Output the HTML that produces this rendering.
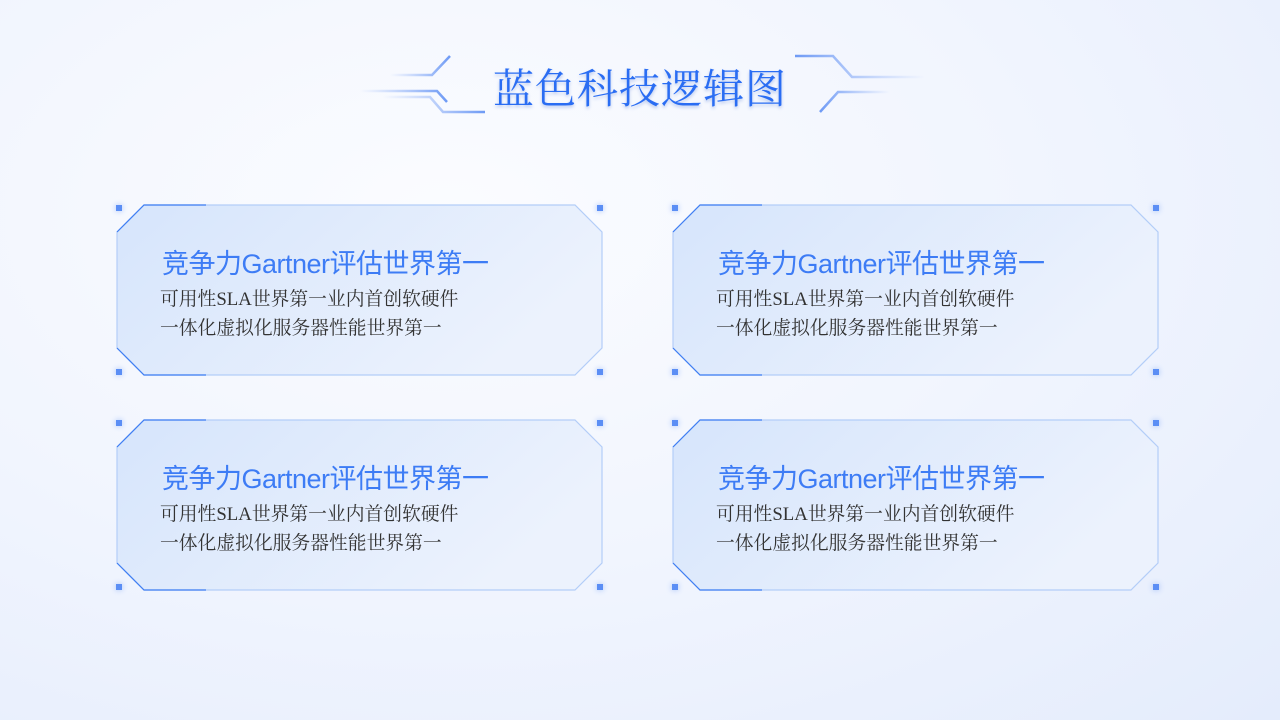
<!DOCTYPE html>
<html><head><meta charset="utf-8"><style>
html,body{margin:0;padding:0}
body{width:1280px;height:720px;overflow:hidden;position:relative;background:radial-gradient(ellipse at 35% 30%,#fbfcff 0%,#f1f5fe 50%,#e4ecfc 100%);font-family:"Liberation Sans","Noto Sans CJK SC",sans-serif}
.t{position:absolute;left:0;width:1280px;top:56px;text-align:center;font-family:"Liberation Serif","Noto Serif CJK SC",serif;font-size:41px;color:#2a6df3;letter-spacing:1px;text-shadow:0 2px 3px rgba(40,90,200,.3)}
.card{position:absolute;width:487px;height:172px}
.card svg{position:absolute;left:0;top:0}
.h{position:absolute;left:46px;top:38px;font-size:27px;color:#3d7cf5;white-space:nowrap;letter-spacing:-0.5px}
.b{position:absolute;left:44px;font-family:"Liberation Serif","Noto Serif CJK SC",serif;font-size:18.8px;color:#333;white-space:nowrap}
.sq{position:absolute;width:6px;height:6px;background:#5b8ef5;box-shadow:0 0 6px #9fbdf8}
</style></head><body>
<svg width="1280" height="140" style="position:absolute;left:0;top:0">
<defs><linearGradient id="gl" x1="0" x2="1"><stop offset="0" stop-color="#8fb0f7" stop-opacity="0"/><stop offset="1" stop-color="#6e9af5"/></linearGradient>
<linearGradient id="gr" x1="1" x2="0"><stop offset="0" stop-color="#8fb0f7" stop-opacity="0"/><stop offset="1" stop-color="#6e9af5"/></linearGradient></defs>
<g fill="none" stroke-width="2.5">
<path d="M390 75 H432 L450 56" stroke="url(#gl)"/>
<path d="M360 91 H437 L447 102" stroke="url(#gl)"/>
<path d="M383 97 H430 L443 112 H485" stroke="url(#gl)"/>
<path d="M925 77 H852 L833 56 H795" stroke="url(#gr)"/>
<path d="M890 92 H838 L820 112" stroke="url(#gr)"/>
<path d="M905 67 H845" stroke="url(#gr)"/>
</g></svg>
<div class="t">蓝色科技逻辑图</div>

<div class="card" style="left:116px;top:204px">
<svg width="487" height="172"><defs><linearGradient id="cf" x1="0" y1="0" x2="1" y2="0.4"><stop offset="0" stop-color="#d6e5fc"/><stop offset="1" stop-color="#ecf2fd"/></linearGradient></defs>
<path d="M28 1 H459 L486 28 V144 L459 171 H28 L1 144 V28 Z" fill="url(#cf)" stroke="#b3cdf8" stroke-width="1.2"/>
<path d="M1 28 L28 1 H90" fill="none" stroke="#3f7ef3" stroke-width="1.2"/><path d="M1 144 L28 171 H90" fill="none" stroke="#3f7ef3" stroke-width="1.2"/></svg>
<div class="h">竞争力Gartner评估世界第一</div><div class="b" style="top:80px">可用性SLA世界第一业内首创软硬件</div><div class="b" style="top:109px">一体化虚拟化服务器性能世界第一</div>
<div class="sq" style="left:0;top:1px"></div><div class="sq" style="left:481px;top:1px"></div><div class="sq" style="left:0;top:165px"></div><div class="sq" style="left:481px;top:165px"></div>
</div>

<div class="card" style="left:672px;top:204px">
<svg width="487" height="172"><path d="M28 1 H459 L486 28 V144 L459 171 H28 L1 144 V28 Z" fill="url(#cf)" stroke="#b3cdf8" stroke-width="1.2"/>
<path d="M1 28 L28 1 H90" fill="none" stroke="#3f7ef3" stroke-width="1.2"/><path d="M1 144 L28 171 H90" fill="none" stroke="#3f7ef3" stroke-width="1.2"/></svg>
<div class="h">竞争力Gartner评估世界第一</div><div class="b" style="top:80px">可用性SLA世界第一业内首创软硬件</div><div class="b" style="top:109px">一体化虚拟化服务器性能世界第一</div>
<div class="sq" style="left:0;top:1px"></div><div class="sq" style="left:481px;top:1px"></div><div class="sq" style="left:0;top:165px"></div><div class="sq" style="left:481px;top:165px"></div>
</div>

<div class="card" style="left:116px;top:419px">
<svg width="487" height="172"><path d="M28 1 H459 L486 28 V144 L459 171 H28 L1 144 V28 Z" fill="url(#cf)" stroke="#b3cdf8" stroke-width="1.2"/>
<path d="M1 28 L28 1 H90" fill="none" stroke="#3f7ef3" stroke-width="1.2"/><path d="M1 144 L28 171 H90" fill="none" stroke="#3f7ef3" stroke-width="1.2"/></svg>
<div class="h">竞争力Gartner评估世界第一</div><div class="b" style="top:80px">可用性SLA世界第一业内首创软硬件</div><div class="b" style="top:109px">一体化虚拟化服务器性能世界第一</div>
<div class="sq" style="left:0;top:1px"></div><div class="sq" style="left:481px;top:1px"></div><div class="sq" style="left:0;top:165px"></div><div class="sq" style="left:481px;top:165px"></div>
</div>

<div class="card" style="left:672px;top:419px">
<svg width="487" height="172"><path d="M28 1 H459 L486 28 V144 L459 171 H28 L1 144 V28 Z" fill="url(#cf)" stroke="#b3cdf8" stroke-width="1.2"/>
<path d="M1 28 L28 1 H90" fill="none" stroke="#3f7ef3" stroke-width="1.2"/><path d="M1 144 L28 171 H90" fill="none" stroke="#3f7ef3" stroke-width="1.2"/></svg>
<div class="h">竞争力Gartner评估世界第一</div><div class="b" style="top:80px">可用性SLA世界第一业内首创软硬件</div><div class="b" style="top:109px">一体化虚拟化服务器性能世界第一</div>
<div class="sq" style="left:0;top:1px"></div><div class="sq" style="left:481px;top:1px"></div><div class="sq" style="left:0;top:165px"></div><div class="sq" style="left:481px;top:165px"></div>
</div>
</body></html>
